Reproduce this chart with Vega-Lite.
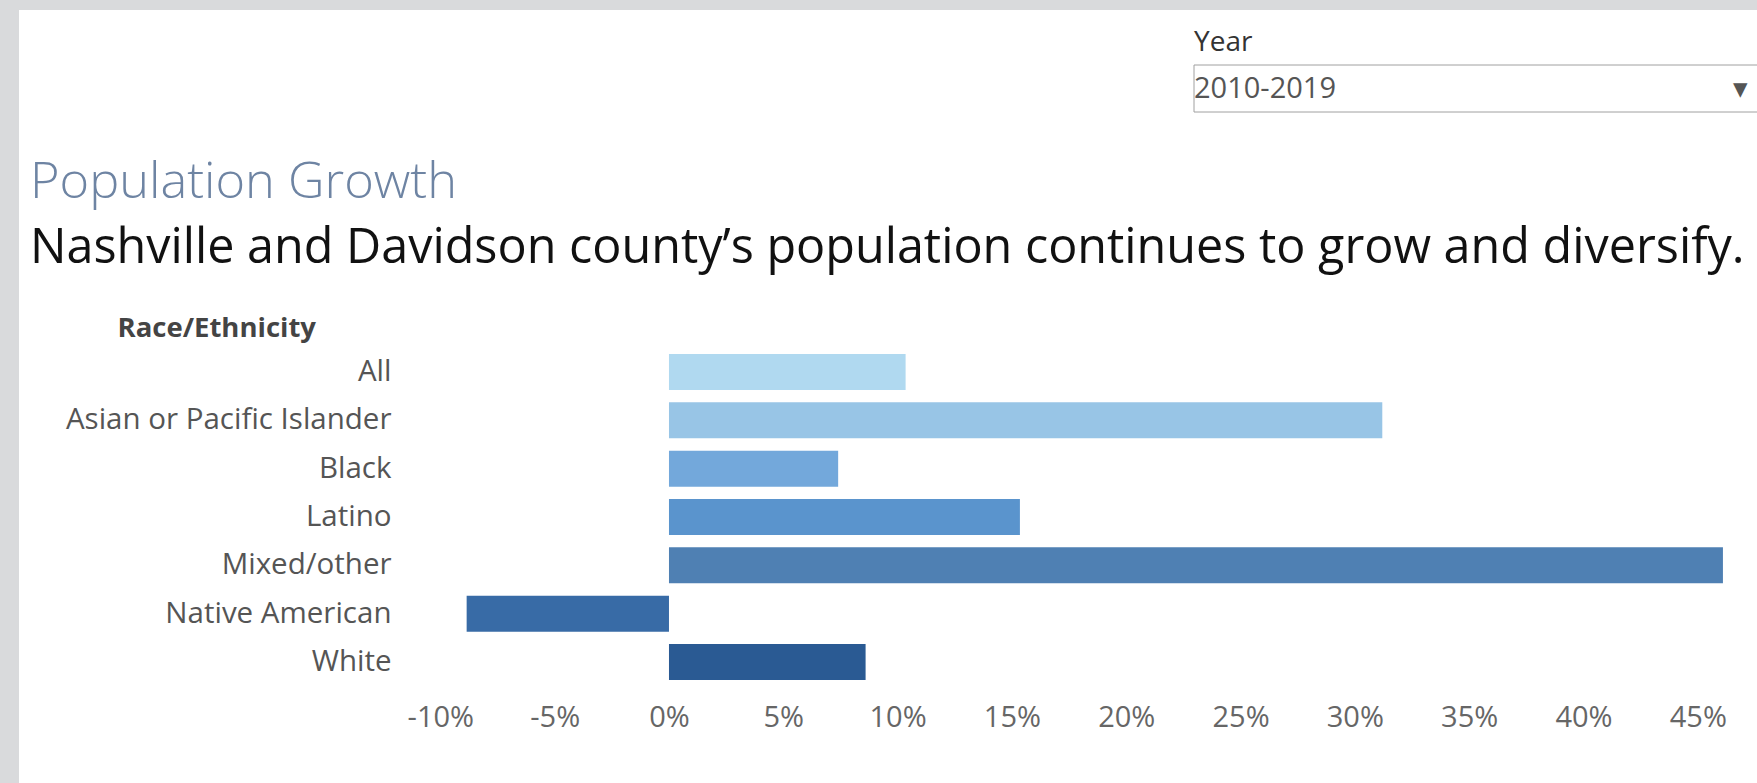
{
  "$schema": "https://vega.github.io/schema/vega-lite/v6.json",
  "width": 1738,
  "height": 773,
  "autosize": {"type": "none"},
  "padding": {"left": 19, "top": 10, "right": 0, "bottom": 0},
  "background": "#d9dadc",
  "config": {
    "view": {"fill": "white", "stroke": null},
    "font": "Open Sans"
  },
  "title": {
    "text": "Population Growth",
    "subtitle": "Nashville and Davidson county’s population continues to grow and diversify.",
    "anchor": "start",
    "frame": "group",
    "orient": "top",
    "offset": -262,
    "dx": 11,
    "font": "Open Sans",
    "fontSize": 50.5,
    "fontWeight": 300,
    "color": "#6e84a3",
    "subtitleFont": "Open Sans",
    "subtitleFontSize": 48.5,
    "subtitleFontWeight": 400,
    "subtitleColor": "#111111",
    "subtitlePadding": 16
  },
  "data": {
    "values": [
      {"race": "All", "growth": 10.35, "yearStart": 2010},
      {"race": "Asian or Pacific Islander", "growth": 31.2, "yearStart": 2010},
      {"race": "Black", "growth": 7.4, "yearStart": 2010},
      {"race": "Latino", "growth": 15.35, "yearStart": 2010},
      {"race": "Mixed/other", "growth": 46.1, "yearStart": 2010},
      {"race": "Native American", "growth": -8.85, "yearStart": 2010},
      {"race": "White", "growth": 8.6, "yearStart": 2010}
    ]
  },
  "mark": {"type": "bar", "strokeWidth": 0, "strokeOpacity": 0},
  "encoding": {
    "y": {
      "field": "race",
      "type": "nominal",
      "sort": null,
      "scale": {"range": [337.8, 676.2], "paddingInner": 0.255, "paddingOuter": 0.1275},
      "axis": {
        "orient": "left",
        "offset": -372,
        "domain": false,
        "ticks": false,
        "tickSize": 0,
        "grid": false,
        "labelPadding": 0,
        "labelFont": "Open Sans",
        "labelFontSize": 29.5,
        "labelColor": "#555555",
        "labelLimit": 500,
        "title": "Race/Ethnicity",
        "titleFont": "Open Sans",
        "titleAngle": 0,
        "titleAlign": "left",
        "titleBaseline": "middle",
        "titleX": -274,
        "titleY": 318,
        "titleFontSize": 27.5,
        "titleFontWeight": "bold",
        "titleColor": "#444444"
      }
    },
    "x": {
      "field": "growth",
      "type": "quantitative",
      "scale": {"domain": [-28.43, 47.59], "nice": false, "zero": false},
      "axis": {
        "orient": "bottom",
        "offset": -66,
        "values": [-10, -5, 0, 5, 10, 15, 20, 25, 30, 35, 40, 45],
        "labelExpr": "datum.value + '%'",
        "domain": false,
        "ticks": false,
        "tickSize": 0,
        "grid": false,
        "labelPadding": 0,
        "labelBaseline": "middle",
        "labelFont": "Open Sans",
        "labelFontSize": 29,
        "labelColor": "#666666",
        "labelFlush": false,
        "labelOverlap": false,
        "title": null
      }
    },
    "x2": {"datum": 0},
    "fill": {
      "field": "race",
      "type": "nominal",
      "scale": {
        "domain": ["All", "Asian or Pacific Islander", "Black", "Latino", "Mixed/other", "Native American", "White"],
        "range": ["#b0d9f0", "#98c5e6", "#73a8db", "#5a94cd", "#4f80b3", "#386ba6", "#2a5a93"]
      },
      "legend": null
    },
    "stroke": {
      "field": "yearStart",
      "type": "quantitative",
      "scale": {"domain": [2010, 2019], "range": ["#ffffff", "#ffffff"]},
      "legend": {
        "type": "gradient",
        "direction": "horizontal",
        "orient": "none",
        "legendX": 1175,
        "legendY": 19,
        "padding": 0,
        "title": "Year",
        "titleOrient": "top",
        "titleAnchor": "start",
        "titleFont": "Open Sans",
        "titleFontSize": 28,
        "titleFontWeight": "normal",
        "titleColor": "#333333",
        "titlePadding": 8,
        "gradientLength": 568,
        "gradientThickness": 47,
        "gradientStrokeColor": "#a0a0a0",
        "gradientStrokeWidth": 1,
        "values": [2010, 2019],
        "labelExpr": "datum.value == 2010 ? '\u2009\u2009\u20092010-2019\u2003\u2003\u2003\u2003\u2003\u2003\u2003\u2003\u2003\u2003\u2003\u2003\u2003\u00a0\u00a0\u2009\u25be' : ''",
        "labelOffset": -37.5,
        "labelFont": "Open Sans",
        "labelFontSize": 29,
        "labelColor": "#555555",
        "labelLimit": 800,
        "labelOverlap": false
      }
    }
  }
}
